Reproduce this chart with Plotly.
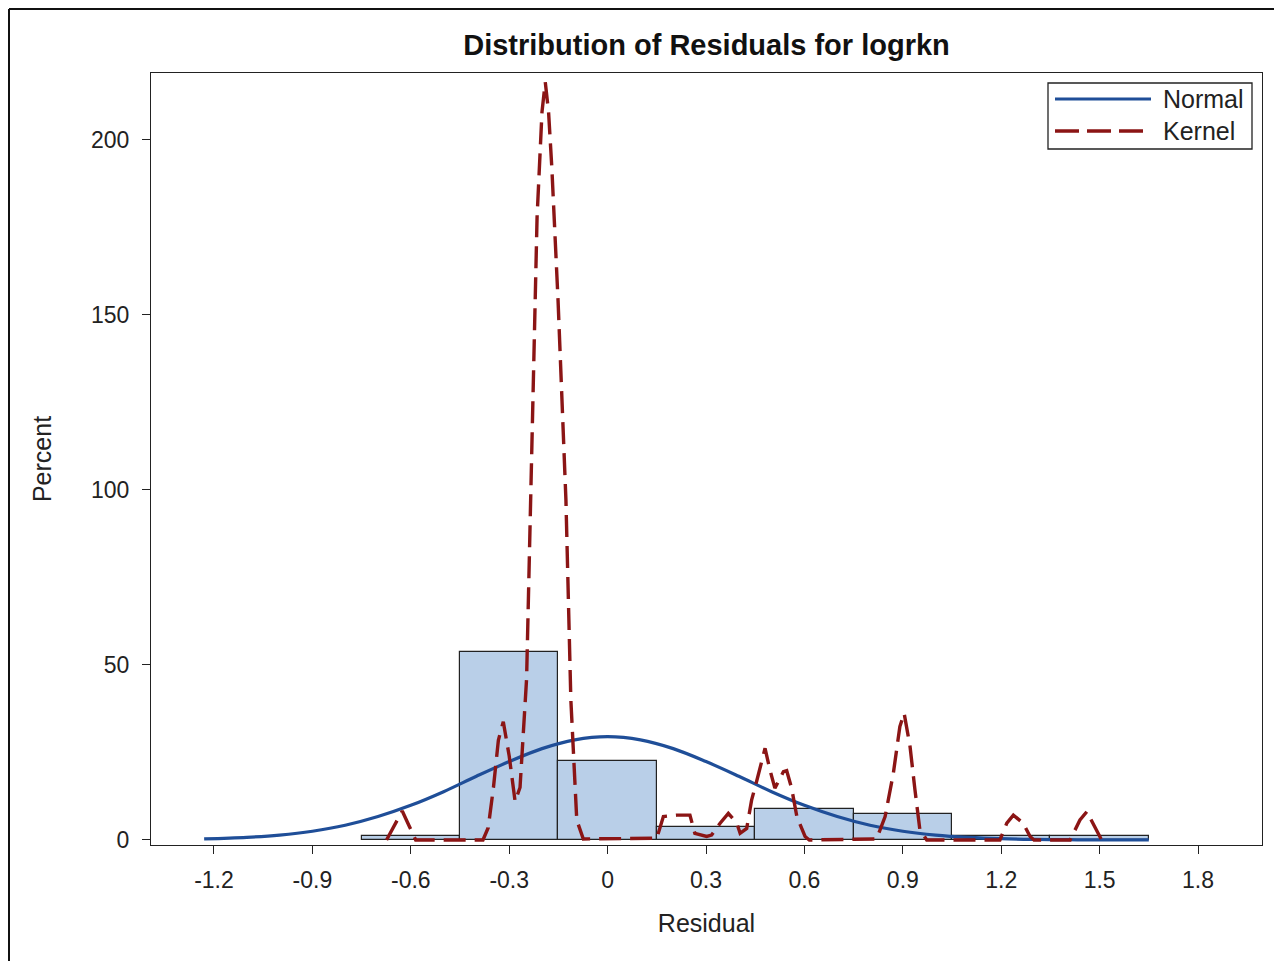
import plotly.graph_objects as go

# histogram of residuals (percent per 0.3-wide bin)
bin_mid = [-0.6, -0.3, 0.0, 0.3, 0.6, 0.9, 1.2, 1.5]
bin_pct = [1.25, 53.75, 22.5, 3.75, 8.75, 7.5, 1.25, 1.25]

# fitted normal curve
norm_x = [-1.23, -1.1, -1.0, -0.9, -0.8, -0.7, -0.6, -0.5, -0.4, -0.3, -0.2, -0.1, 0.0,
          0.1, 0.2, 0.3, 0.4, 0.5, 0.6, 0.7, 0.8, 0.9, 1.0, 1.1, 1.2, 1.3, 1.4, 1.5, 1.65]
norm_y = [0.3, 0.75, 1.4, 2.5, 4.2, 6.7, 9.9, 13.8, 18.2, 22.4, 26.1, 28.6, 29.5,
          28.6, 26.1, 22.4, 18.2, 13.8, 9.9, 6.7, 4.2, 2.5, 1.4, 0.75, 0.37, 0.18, 0.08, 0.03, 0.01]

# kernel density curve
kern_x = [-0.674, -0.65, -0.626, -0.605, -0.585, -0.38, -0.364, -0.348, -0.333, -0.318,
          -0.30, -0.282, -0.267, -0.247, -0.23, -0.215, -0.20, -0.19, -0.18, -0.17,
          -0.151, -0.127, -0.112, -0.094, -0.074, 0.15, 0.17, 0.211, 0.251, 0.266,
          0.302, 0.317, 0.343, 0.368, 0.394, 0.404, 0.424, 0.439, 0.455, 0.48, 0.495,
          0.51, 0.536, 0.546, 0.561, 0.577, 0.602, 0.615, 0.82, 0.846, 0.871, 0.891,
          0.904, 0.922, 0.937, 0.952, 0.973, 1.196, 1.217, 1.237, 1.267, 1.288, 1.30,
          1.41, 1.42, 1.44, 1.461, 1.486, 1.506]
kern_y = [0, 4, 8.3, 4, 0, 0, 3.5, 15, 28.5, 33.8,
          24, 11, 15, 46, 118, 178, 208, 216.5, 208, 192,
          154, 97, 40, 5.7, 0.3, 0.5, 6.7, 7.1, 7.1, 1.9,
          1.0, 1.4, 4.8, 7.6, 4.8, 1.9, 3.3, 11.4, 17, 26.2, 20,
          14.8, 19.5, 19.8, 14.8, 6.7, 1.0, 0, 0.3, 6.7, 19, 32.4,
          36.2, 26.7, 14.3, 2.9, 0, 0, 4.8, 7.1, 4.8, 1.0, 0,
          0, 1.9, 5.7, 8.1, 3.8, 0]

x_ticks = [-1.2, -0.9, -0.6, -0.3, 0, 0.3, 0.6, 0.9, 1.2, 1.5, 1.8]
x_tick_text = ["-1.2", "-0.9", "-0.6", "-0.3", "0", "0.3", "0.6", "0.9", "1.2", "1.5", "1.8"]
y_ticks = [0, 50, 100, 150, 200]

OFF = 8  # page body margin
W, H = 1282 - OFF, 961 - OFF
# plot area in page pixels
L, R, T, B = 151, 1262, 73, 845
FONT = "Liberation Sans, Arial, sans-serif"
BLUE = "#1f4e98"
RED = "#8b1515"


def px(x):
    return (x - L) / (R - L)


def py(y):
    return 1 - (y - T) / (B - T)


fig = go.Figure()
fig.add_trace(go.Bar(x=bin_mid, y=bin_pct, width=0.3, marker=dict(color="#b9cfe8", line=dict(color="#222222", width=1.2)),
                     showlegend=False))
fig.add_trace(go.Scatter(x=norm_x, y=norm_y, mode="lines", line=dict(color=BLUE, width=3.2, shape="spline"), name="Normal",
                         showlegend=False))
fig.add_trace(go.Scatter(x=kern_x, y=kern_y, mode="lines", line=dict(color=RED, width=3.4, dash="22px,9px"),
                         name="Kernel", showlegend=False))

# hand-made legend box like the SAS one
shapes = [
    dict(type="rect", xref="paper", yref="paper", x0=px(1048), x1=px(1252), y0=py(149), y1=py(83),
         line=dict(color="#222222", width=1.3), fillcolor="white"),
    dict(type="line", xref="paper", yref="paper", x0=px(1055), x1=px(1151), y0=py(99), y1=py(99),
         line=dict(color=BLUE, width=3.2)),
    dict(type="line", xref="paper", yref="paper", x0=px(1055), x1=px(1151), y0=py(131), y1=py(131),
         line=dict(color=RED, width=3.4, dash="24px,8px")),
    # outer frame of the image (left and top edges)
    dict(type="line", xref="paper", yref="paper", x0=px(OFF + 1), x1=px(OFF + 1), y0=py(OFF + 1), y1=py(980),
         line=dict(color="#111111", width=2)),
    dict(type="line", xref="paper", yref="paper", x0=px(OFF + 1), x1=px(1300), y0=py(OFF + 1), y1=py(OFF + 1),
         line=dict(color="#111111", width=2)),
]
annotations = [
    dict(text="Normal", xref="paper", yref="paper", x=px(1161), y=py(99), xanchor="left", yanchor="middle",
         showarrow=False, font=dict(size=25, color="#222222", family=FONT)),
    dict(text="Kernel", xref="paper", yref="paper", x=px(1161), y=py(131), xanchor="left", yanchor="middle",
         showarrow=False, font=dict(size=25, color="#222222", family=FONT)),
]

fig.update_layout(
    width=W, height=H,
    margin=dict(l=L - OFF, r=W - (R - OFF), t=T - OFF, b=H - (B - OFF)),
    paper_bgcolor="white", plot_bgcolor="white",
    font=dict(family=FONT, color="#222222"),
    title=dict(text="<b>Distribution of Residuals for logrkn</b>", x=0.5, xref="paper", y=1 - (45 - OFF) / H,
               yanchor="middle", font=dict(size=29, color="#111111", family=FONT)),
    bargap=0,
    shapes=shapes, annotations=annotations,
    xaxis=dict(range=[-1.392, 1.995], tickvals=x_ticks, ticktext=x_tick_text, showgrid=False, zeroline=False,
               showline=True, linecolor="#222222", linewidth=1.3, mirror=True, ticks="outside", ticklen=8,
               tickcolor="#222222", tickfont=dict(size=23), ticklabelstandoff=6,
               title=dict(text="Residual", font=dict(size=25), standoff=22)),
    yaxis=dict(range=[-1.43, 219.1], tickvals=y_ticks, showgrid=False, zeroline=False,
               showline=True, linecolor="#222222", linewidth=1.3, mirror=True, ticks="outside", ticklen=8,
               tickcolor="#222222", tickfont=dict(size=23), ticklabelstandoff=8,
               title=dict(text="Percent", font=dict(size=25), standoff=32)),
)

fig.write_html("out.html")
